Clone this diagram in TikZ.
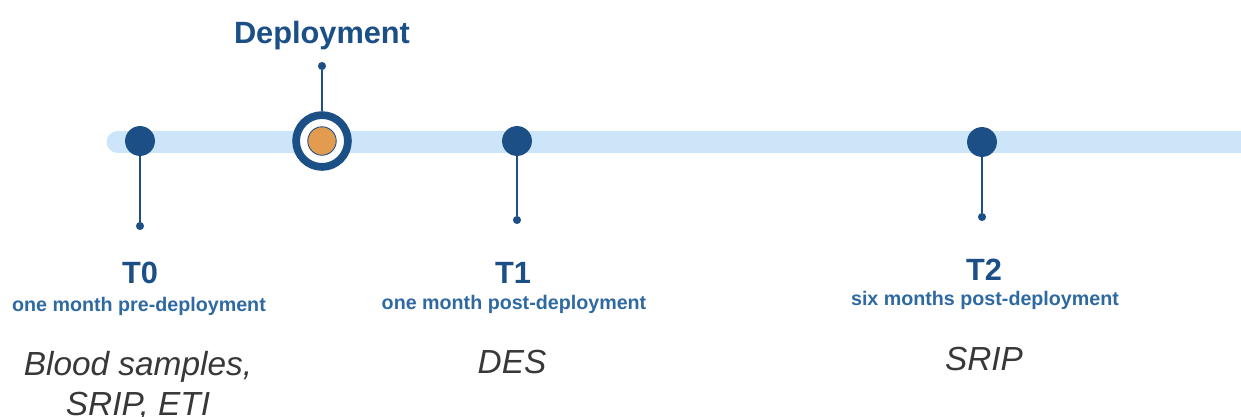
\documentclass[tikz,border=0pt]{standalone}
\usepackage{fontspec}
\setmainfont{Liberation Sans}
\usepackage{xcolor}
\usetikzlibrary{positioning}
\definecolor{navy}{HTML}{1B4F86}
\definecolor{steel}{HTML}{2E69A1}
\definecolor{trackblue}{HTML}{CCE5F8}
\definecolor{amber}{HTML}{E39B50}
\definecolor{ink}{HTML}{383838}
\tikzset{
  track/.style={draw=trackblue, line width=13pt, line cap=round},
  milestone/.style={circle, fill=navy, inner sep=0pt, minimum size=17pt},
  ring/.style={circle, draw=navy, line width=4.4pt, fill=white, inner sep=0pt, minimum size=29.5pt},
  core/.style={circle, draw=navy, line width=0.5pt, fill=amber, inner sep=0pt, minimum size=16.2pt},
  tip/.style={circle, fill=navy, inner sep=0pt, minimum size=4.6pt},
  stem/.style={draw=navy, line width=1.2pt},
  stage/.style={text=navy, font=\bfseries\fontsize{17.5}{20}\selectfont, anchor=base, inner sep=0pt},
  when/.style={text=steel, font=\bfseries\fontsize{11.2}{13}\selectfont, anchor=base, inner sep=0pt},
  task/.style={text=ink, font=\itshape\fontsize{19}{22.7}\selectfont, anchor=base, align=center, inner sep=0pt},
}

\begin{document}
\begin{tikzpicture}[x=0.02cm, y=-0.02cm]
  \useasboundingbox (0,0) rectangle (1241,416);

  % timeline track
  \draw[track] (118,142) -- (1262,142);

  % milestones
  \node[milestone] (t0) at (140,141) {};
  \node[milestone] (t1) at (517,141) {};
  \node[milestone] (t2) at (982,142) {};
  \node[ring] (dep) at (322,141) {};
  \node[core] (depcore) at (dep) {};

  % stems and their end dots
  \node[tip] (t0tip) at (140,226) {};
  \node[tip] (t1tip) at (517,220) {};
  \node[tip] (t2tip) at (982,217) {};
  \node[tip] (deptip) at (322,66) {};
  \draw[stem] (t0) -- (t0tip);
  \draw[stem] (t1) -- (t1tip);
  \draw[stem] (t2) -- (t2tip);
  \draw[stem] (dep) -- (deptip);

  % labels
  \node[stage] (deplab) at (322,43) {Deployment};

  \node[stage] (t0lab) at (140,283) {T0};
  \node[when]  (t0when) at (139,311) {one month pre-deployment};
  % base sits on the last line here
  \node[task]  (t0task) at (138,415) {Blood samples,\\SRIP, ETI};

  \node[stage] (t1lab) at (513,283) {T1};
  \node[when]  (t1when) at (514,309) {one month post-deployment};
  \node[task]  (t1task) at (512,373) {DES};

  \node[stage] (t2lab) at (984,280) {T2};
  \node[when]  (t2when) at (985,305) {six months post-deployment};
  \node[task]  (t2task) at (984,370) {SRIP};
\end{tikzpicture}
\end{document}
